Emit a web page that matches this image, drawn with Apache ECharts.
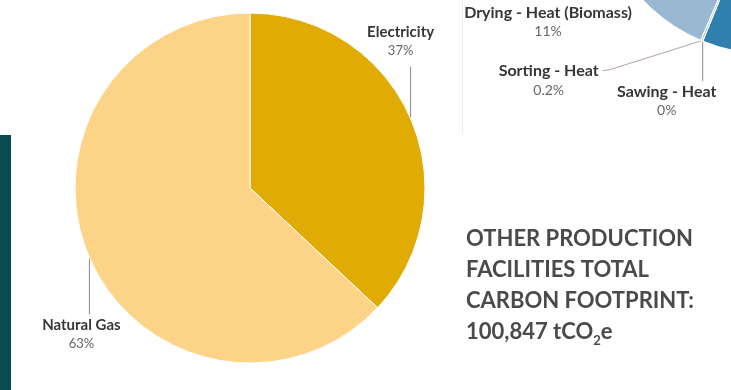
<!DOCTYPE html>
<html>
<head>
<meta charset="utf-8">
<script src="https://cdn.jsdelivr.net/npm/echarts@6/dist/echarts.min.js"></script>
<style>
  html, body { margin: 0; padding: 0; background: #ffffff; }
  #chart { width: 731px; height: 390px; }
</style>
</head>
<body>
<div id="chart"></div>
<script>
// Other production facilities: emissions by energy source (%)
const sourceNames = ['Electricity', 'Natural Gas'];
const sourceShares = [37, 63];
const sourceColors = ['#E0AB05', '#FDD388'];

// Sawmill process breakdown (%), only part of this ring is in view
const processNames = ['Other processes', 'Sawing - Heat', 'Sorting - Heat', 'Drying - Heat (Biomass)', 'Remaining processes'];
const processShares = [56.2, 0, 0.2, 11, 32.6];
const processColors = ['#2F80AD', '#A9D4EE', '#A9D4EE', '#9AB8D2', '#5E9CC4'];
const processLabelled = [false, true, true, true, false];

// Footprint summary text
const footprintLines = ['OTHER PRODUCTION', 'FACILITIES TOTAL', 'CARBON FOOTPRINT:'];
const footprintValue = '100,847';

const FONT = 'Lato, "Open Sans", sans-serif';

const chart = echarts.init(document.getElementById('chart'), null, { renderer: 'canvas' });

function labelRich(nameSize, valueSize, lh) {
  return {
    n: { fontFamily: FONT, fontWeight: 'bold', fontSize: nameSize, color: '#363636', lineHeight: lh, align: 'center' },
    v: { fontFamily: FONT, fontSize: valueSize, color: '#666666', lineHeight: lh, align: 'center' }
  };
}

const sourceData = sourceNames.map((name, i) => ({
  name,
  value: sourceShares[i],
  itemStyle: { color: sourceColors[i] }
}));

const processData = processNames.map((name, i) => ({
  name,
  value: processShares[i],
  itemStyle: { color: processColors[i] },
  label: { show: processLabelled[i] },
  labelLine: {
    show: processLabelled[i] && i !== 3,
    lineStyle: { color: i === 2 ? '#b8a0a4' : '#8a8a8a', width: 1 }
  }
}));

const footprintText =
  footprintLines.map(t => '{h|' + t + '}').join('\n') +
  '\n{h|' + footprintValue + ' tCO}{s|2}{h|e}';

chart.setOption({
  backgroundColor: '#ffffff',
  animation: false,
  graphic: [
    { type: 'rect', shape: { x: 0, y: 135, width: 11, height: 255 }, style: { fill: '#0B4A4F' } },
    { type: 'line', shape: { x1: 462.5, y1: 0, x2: 462.5, y2: 134 }, style: { stroke: '#eeeeee', lineWidth: 1 } },
    {
      type: 'text',
      left: 466,
      top: 228,
      style: {
        text: footprintText,
        rich: {
          h: { fontFamily: FONT, fontWeight: 'bold', fontSize: 22, lineHeight: 31, fill: '#4a4a4a' },
          s: { fontFamily: FONT, fontWeight: 'bold', fontSize: 13, lineHeight: 20, verticalAlign: 'bottom', fill: '#4a4a4a' }
        }
      }
    }
  ],
  series: [
    {
      type: 'pie',
      center: [250, 188],
      radius: 175,
      startAngle: 90,
      clockwise: true,
      data: sourceData,
      itemStyle: { borderColor: '#ffffff', borderWidth: 1 },
      label: {
        show: true,
        overflow: 'none',
        formatter: p => '{n|' + p.name + '}\n{v|' + p.value + '%}',
        rich: labelRich(15, 13, 19)
      },
      labelLine: { show: true, lineStyle: { color: '#8a8a8a', width: 1 } },
      labelLayout: function (params) {
        const pts = params.labelLinePoints;
        if (!pts) return {};
        const e = pts[0];
        if (params.dataIndex === 0) {
          const end = [e[0], e[1] - 52];
          return { x: e[0] - 10, y: e[1] - 58, align: 'center', verticalAlign: 'bottom', labelLinePoints: [e, end, end] };
        }
        const end = [e[0], e[1] + 57];
        return { x: e[0] - 8, y: e[1] + 58, align: 'center', verticalAlign: 'top', labelLinePoints: [e, end, end] };
      },
      emphasis: { disabled: true }
    },
    {
      type: 'pie',
      center: [768, -118],
      radius: 172,
      startAngle: 90,
      clockwise: true,
      data: processData,
      itemStyle: { borderColor: '#ffffff', borderWidth: 1 },
      label: {
        overflow: 'none',
        formatter: p => '{n|' + p.name + '}\n{v|' + p.value + '%}',
        rich: labelRich(16, 14, 19)
      },
      labelLayout: function (params) {
        const pts = params.labelLinePoints;
        if (!pts) return {};
        const e = pts[0];
        if (params.dataIndex === 1) {
          const end = [e[0], e[1] + 40];
          return { x: e[0] - 36, y: e[1] + 41, align: 'center', verticalAlign: 'top', labelLinePoints: [e, end, end] };
        }
        if (params.dataIndex === 2) {
          return {
            x: e[0] - 153, y: e[1] + 21, align: 'center', verticalAlign: 'top',
            labelLinePoints: [e, [e[0] - 92, e[1] + 29], [e[0] - 99, e[1] + 30]]
          };
        }
        if (params.dataIndex === 3) {
          return { x: e[0] - 103, y: e[1] + 14, align: 'center', verticalAlign: 'middle' };
        }
        return {};
      },
      emphasis: { disabled: true }
    }
  ]
});
</script>
</body>
</html>
